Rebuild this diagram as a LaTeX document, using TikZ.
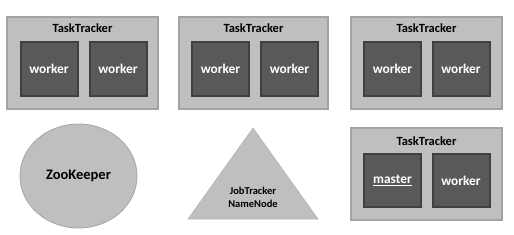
\documentclass[tikz,border=0pt]{standalone}
\usepackage{fontspec}
\setmainfont{Carlito}
\usetikzlibrary{shapes.geometric}
\definecolor{boxfill}{HTML}{BFBFBF}
\definecolor{boxline}{HTML}{A3A3A3}
\definecolor{wfill}{HTML}{595959}
\definecolor{wline}{HTML}{404040}
\tikzset{
  tbox/.style={draw=boxline, fill=boxfill, line width=2pt, rectangle, inner sep=0pt},
  wbox/.style={draw=wline, fill=wfill, line width=2pt, rectangle, inner sep=0pt,
     minimum width=57pt, minimum height=54pt, text=white, font=\fontsize{13.4}{15}\selectfont\bfseries},
  ttl/.style={font=\fontsize{12.5}{14}\selectfont\bfseries, text=black, inner sep=0pt},
}
\begin{document}
\begin{tikzpicture}[x=1pt,y=-1pt]
\useasboundingbox (0,0) rectangle (514,234);
% top-left
\node[tbox, minimum width=151pt, minimum height=92pt] (t1) at (82.5,63) {};
\node[ttl] (t1l) at (82.5,28.5) {TaskTracker};
\node[wbox] (w11) at (49,69) {worker};
\node[wbox] (w12) at (118,69) {worker};
% top-middle
\node[tbox, minimum width=149pt, minimum height=92pt] (t2) at (253.5,63) {};
\node[ttl] (t2l) at (253.5,28.5) {TaskTracker};
\node[wbox] (w21) at (220.5,69) {worker};
\node[wbox] (w22) at (289.5,69) {worker};
% top-right
\node[tbox, minimum width=151pt, minimum height=92pt] (t3) at (426.5,63) {};
\node[ttl] (t3l) at (426.5,28.5) {TaskTracker};
\node[wbox] (w31) at (392.5,69) {worker};
\node[wbox] (w32) at (461,69) {worker};
% bottom-right
\node[tbox, minimum width=151pt, minimum height=92pt] (t4) at (426.5,174) {};
\node[ttl] (t4l) at (426.5,141) {TaskTracker};
\node[wbox, minimum height=53pt] (m4) at (392.5,180.5) {\underline{master}};
\node[wbox, minimum height=53pt] (w42) at (461,180.5) {worker};
% ZooKeeper
\node[ellipse, draw=boxline, fill=boxfill, line width=0.8pt, minimum width=117pt, minimum height=104pt,
      font=\fontsize{14.5}{16}\selectfont\bfseries] (zk) at (78.5,176) {ZooKeeper};
% JobTracker triangle
\coordinate (apex) at (253,128);
\coordinate (br) at (318,219);
\coordinate (bl) at (188,219);
\filldraw[fill=boxfill, draw=boxline!80!white, line width=0.6pt] (apex) -- (br) -- (bl) -- cycle;
\node[align=center, font=\fontsize{10.5}{13}\selectfont\bfseries, inner sep=0pt] (jt) at (253,197.5) {JobTracker\\NameNode};
\end{tikzpicture}
\end{document}
